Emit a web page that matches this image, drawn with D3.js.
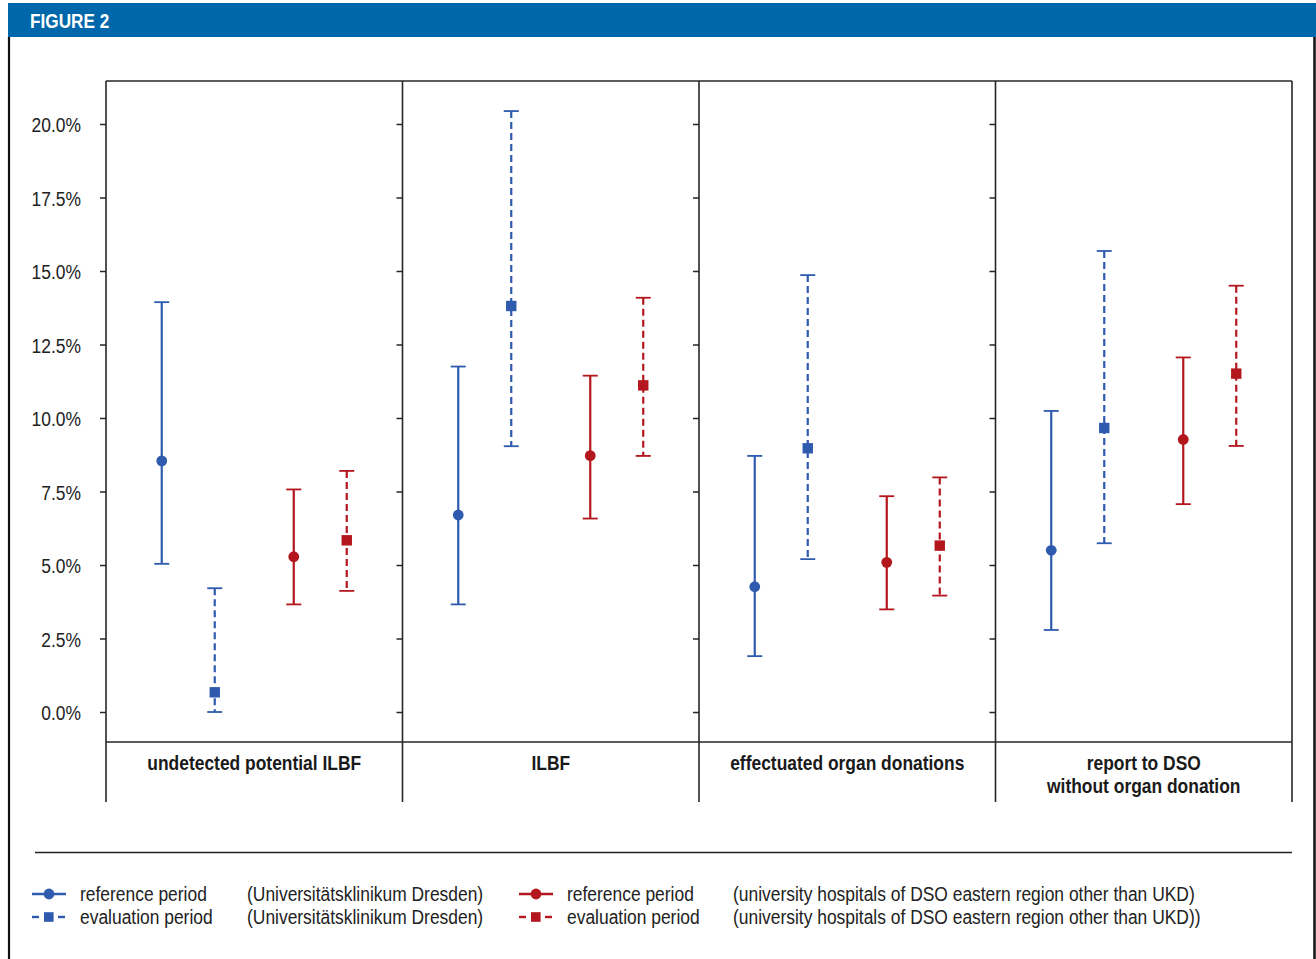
<!DOCTYPE html>
<html><head><meta charset="utf-8">
<script src="https://cdn.jsdelivr.net/npm/d3@7"></script>
<style>
html,body{margin:0;padding:0;background:#fff;}
svg{display:block;}
</style></head>
<body>
<svg id="chart" width="1316" height="959"></svg>
<script>
// ---- data ----
const categories = ["undetected potential ILBF", "ILBF", "effectuated organ donations", "report to DSO\nwithout organ donation"];
const yTicks = [0, 2.5, 5, 7.5, 10, 12.5, 15, 17.5, 20];

const ukdRefValue = [8.54, 6.70, 4.26, 5.50];
const ukdRefLow   = [5.04, 3.66, 1.90, 2.79];
const ukdRefHigh  = [13.94, 11.75, 8.71, 10.24];

const ukdEvalValue = [0.67, 13.81, 8.97, 9.66];
const ukdEvalLow   = [0.00, 9.04, 5.20, 5.74];
const ukdEvalHigh  = [4.21, 20.44, 14.86, 15.68];

const othRefValue = [5.28, 8.72, 5.09, 9.27];
const othRefLow   = [3.66, 6.58, 3.49, 7.07];
const othRefHigh  = [7.57, 11.44, 7.34, 12.06];

const othEvalValue = [5.84, 11.11, 5.66, 11.51];
const othEvalLow   = [4.12, 8.71, 3.96, 9.05];
const othEvalHigh  = [8.20, 14.09, 7.98, 14.50];

const legendPeriods = ["reference period", "evaluation period"];
const legendGroups = ["(Universitätsklinikum Dresden)", "(university hospitals of DSO eastern region other than UKD)", "(university hospitals of DSO eastern region other than UKD))"];

// ---- styles ----
const BLUE = "#2f5bae", RED = "#b3161c", FRAME = "#262626";
const FONT = "'Liberation Sans',Arial,sans-serif";
const SX = 0.83; // horizontal condensing to mimic a narrow face

const series = [
  {key:"ukdRef",  group:"UKD",   period:"ref",  color:BLUE, v:ukdRefValue,  lo:ukdRefLow,  hi:ukdRefHigh},
  {key:"ukdEval", group:"UKD",   period:"eval", color:BLUE, v:ukdEvalValue, lo:ukdEvalLow, hi:ukdEvalHigh},
  {key:"othRef",  group:"other", period:"ref",  color:RED,  v:othRefValue,  lo:othRefLow,  hi:othRefHigh},
  {key:"othEval", group:"other", period:"eval", color:RED,  v:othEvalValue, lo:othEvalLow, hi:othEvalHigh}
];

const svg = d3.select("#chart");

function addText(parent, tx, ty, str, o) {
  o = o || {};
  return parent.append("text")
    .attr("transform", `translate(${tx},${ty}) scale(${o.sx || SX},1)`)
    .attr("text-anchor", o.anchor || "start")
    .attr("dy", o.dy || null)
    .attr("font-family", FONT)
    .attr("font-weight", o.bold ? "bold" : "normal")
    .attr("font-size", o.size || 21)
    .attr("fill", o.fill || "#222")
    .attr("letter-spacing", o.ls || null)
    .text(str);
}

// header
svg.append("rect").attr("x",8).attr("y",3).attr("width",1308).attr("height",34).attr("fill","#0067aa");
addText(svg, 30, 28, "FIGURE 2", {bold:true, size:20, fill:"#fff", sx:0.86});
// outer border
svg.append("line").attr("x1",9).attr("x2",9).attr("y1",37).attr("y2",959).attr("stroke","#111").attr("stroke-width",2.2);
svg.append("line").attr("x1",1314.5).attr("x2",1314.5).attr("y1",37).attr("y2",959).attr("stroke","#111").attr("stroke-width",2.5);

// layout
const plotLeft = 106, plotRight = 1292, plotTop = 81, plotBottom = 742, labelBottom = 802;
const x = d3.scaleBand().domain(categories).range([plotLeft, plotRight]).padding(0);
const y = d3.scaleLinear().domain([0, 20]).range([712, 124]);
const groupX = d3.scalePoint().domain(["UKD","other"]).range([-66, 66]);
const periodX = d3.scalePoint().domain(["ref","eval"]).range([-26.5, 26.5]);
const cx = (cat, s) => x(cat) + x.bandwidth()/2 + groupX(s.group) + periodX(s.period);

// y-axis ticks on each panel's left edge
const fmt = d => d3.format(".1f")(d) + "%";
categories.forEach((cat, i) => {
  const ax = d3.axisLeft(y).tickValues(yTicks).tickSize(6).tickFormat("");
  const g = svg.append("g").attr("transform", `translate(${x(cat)},0)`).call(ax);
  g.select(".domain").remove();
  g.selectAll(".tick line").attr("stroke", FRAME).attr("stroke-width", 1.5);
  g.selectAll(".tick text").remove();
  if (i === 0) {
    g.selectAll(".tick").each(function(d) {
      addText(d3.select(this), -25, 0, fmt(d), {anchor:"end", dy:"0.36em", size:21});
    });
  }
});

// frame
svg.append("line").attr("x1",plotLeft).attr("x2",plotRight).attr("y1",plotTop).attr("y2",plotTop).attr("stroke",FRAME).attr("stroke-width",1.6);
svg.append("line").attr("x1",plotLeft).attr("x2",plotRight).attr("y1",plotBottom).attr("y2",plotBottom).attr("stroke",FRAME).attr("stroke-width",1.6);
const dividers = categories.map(c => x(c)).concat([plotRight]);
svg.selectAll("line.div").data(dividers).enter().append("line").attr("class","div")
  .attr("x1",d=>d).attr("x2",d=>d).attr("y1",plotTop).attr("y2",labelBottom)
  .attr("stroke",FRAME).attr("stroke-width",1.6);

// category labels
categories.forEach(cat => {
  cat.split("\n").forEach((ln, j) => {
    addText(svg, x(cat) + x.bandwidth()/2, 769.5 + j*23, ln, {anchor:"middle", bold:true, size:21, fill:"#1a1a1a"});
  });
});

// error bars
const capW = 7.5;
series.forEach(s => {
  const g = svg.append("g");
  const dash = s.period === "eval" ? "7,4" : null;
  categories.forEach((cat, i) => {
    const px = cx(cat, s);
    g.append("line").attr("x1",px).attr("x2",px).attr("y1",y(s.hi[i])).attr("y2",y(s.lo[i]))
      .attr("stroke",s.color).attr("stroke-width",2.2).attr("stroke-dasharray",dash);
    [s.hi[i], s.lo[i]].forEach(v => {
      g.append("line").attr("x1",px-capW).attr("x2",px+capW).attr("y1",y(v)).attr("y2",y(v))
        .attr("stroke",s.color).attr("stroke-width",1.8);
    });
    if (s.period === "ref") {
      g.append("circle").attr("cx",px).attr("cy",y(s.v[i])).attr("r",5.4).attr("fill",s.color);
    } else {
      g.append("rect").attr("x",px-5.2).attr("y",y(s.v[i])-5.2).attr("width",10.4).attr("height",10.4).attr("fill",s.color);
    }
  });
});

// separator
svg.append("line").attr("x1",35).attr("x2",1292).attr("y1",852.5).attr("y2",852.5).attr("stroke","#222").attr("stroke-width",1.5);

// legend
const legendItems = [
  {s:series[0], sx:32, tx:80, gx:247, y:894, label:legendPeriods[0], grp:legendGroups[0]},
  {s:series[1], sx:32, tx:80, gx:247, y:917, label:legendPeriods[1], grp:legendGroups[0]},
  {s:series[2], sx:519, tx:567, gx:733, y:894, label:legendPeriods[0], grp:legendGroups[1]},
  {s:series[3], sx:519, tx:567, gx:733, y:917, label:legendPeriods[1], grp:legendGroups[2]}
];
legendItems.forEach(it => {
  const g = svg.append("g");
  const c = it.s.color;
  if (it.s.period === "ref") {
    g.append("line").attr("x1",it.sx).attr("x2",it.sx+34).attr("y1",it.y).attr("y2",it.y).attr("stroke",c).attr("stroke-width",2.4);
    g.append("circle").attr("cx",it.sx+17).attr("cy",it.y).attr("r",5.4).attr("fill",c);
  } else {
    g.append("line").attr("x1",it.sx).attr("x2",it.sx+7).attr("y1",it.y).attr("y2",it.y).attr("stroke",c).attr("stroke-width",2.4);
    g.append("line").attr("x1",it.sx+26).attr("x2",it.sx+33).attr("y1",it.y).attr("y2",it.y).attr("stroke",c).attr("stroke-width",2.4);
    g.append("rect").attr("x",it.sx+12).attr("y",it.y-4.8).attr("width",9.6).attr("height",9.6).attr("fill",c);
  }
  addText(g, it.tx, it.y, it.label, {dy:"0.35em", size:21});
  addText(g, it.gx, it.y, it.grp, {dy:"0.35em", size:21});
});
</script>
</body></html>
